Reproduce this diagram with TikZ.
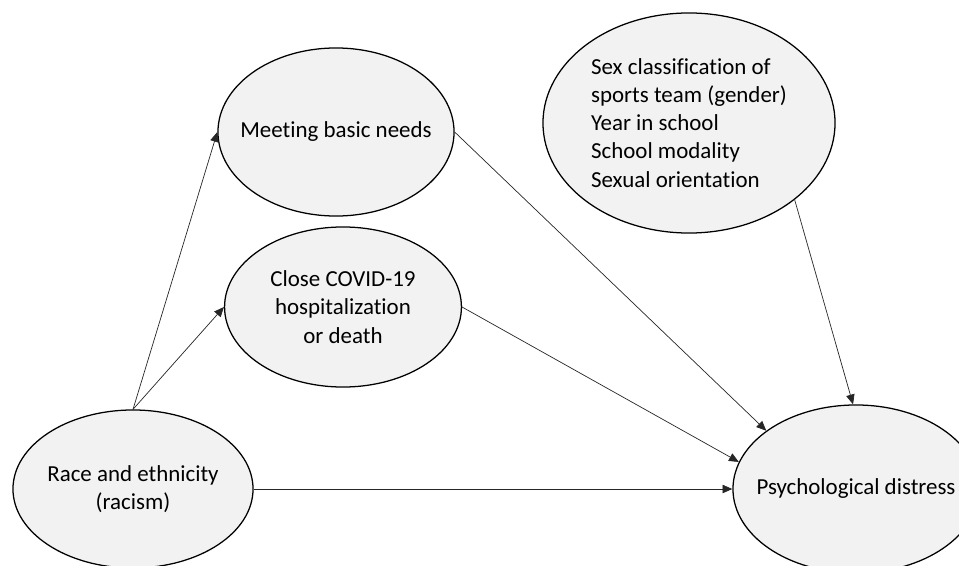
\documentclass[tikz,border=0pt]{standalone}
\usepackage{fontspec}
\setmainfont{Carlito}[Ligatures=NoCommon]
\usetikzlibrary{shapes.geometric}
\usetikzlibrary{arrows.meta}
\definecolor{bubblegray}{HTML}{F2F2F2}
\tikzset{bubble/.style={ellipse,draw=black,line width=0.9pt,fill=bubblegray,inner sep=-3cm,font=\fontsize{16.3}{20}\selectfont}}
\tikzset{path/.style={draw=black!85,line width=0.5pt,-{Triangle[length=7pt,width=6pt]}}}

\begin{document}
\begin{tikzpicture}[x=0.025cm,y=-0.025cm]
\useasboundingbox (0,0) rectangle (959,565);

\node[bubble,minimum width=6cm,minimum height=3.95cm,align=center] (race) at (133,489) {Race and ethnicity\\(racism)};
\node[bubble,minimum width=5.9cm,minimum height=4.2cm] (meet) at (336,132) {Meeting basic needs};
\node[bubble,minimum width=5.92cm,minimum height=4cm,align=center] (covid) at (343,307) {Close COVID-19\\hospitalization\\or death};
\node[bubble,minimum width=7.3cm,minimum height=5.5cm,align=left] (demo) at (689,123) {Sex classification of\\sports team (gender)\\Year in school\\School modality\\Sexual orientation};
\node[bubble,minimum width=6.15cm,minimum height=4.2cm] (psych) at (856,489) {Psychological distress};

% paths
\draw[path] (race.north) -- (meet.west);
\draw[path] (race.north) -- (covid.west);
\draw[path] (meet.east) -- (psych.147);
\draw[path] (covid.east) -- (psych.167);
\draw[path] (race.east) -- (psych.west);
\draw[path] (demo.-36) -- (psych.92);

\end{tikzpicture}
\end{document}
